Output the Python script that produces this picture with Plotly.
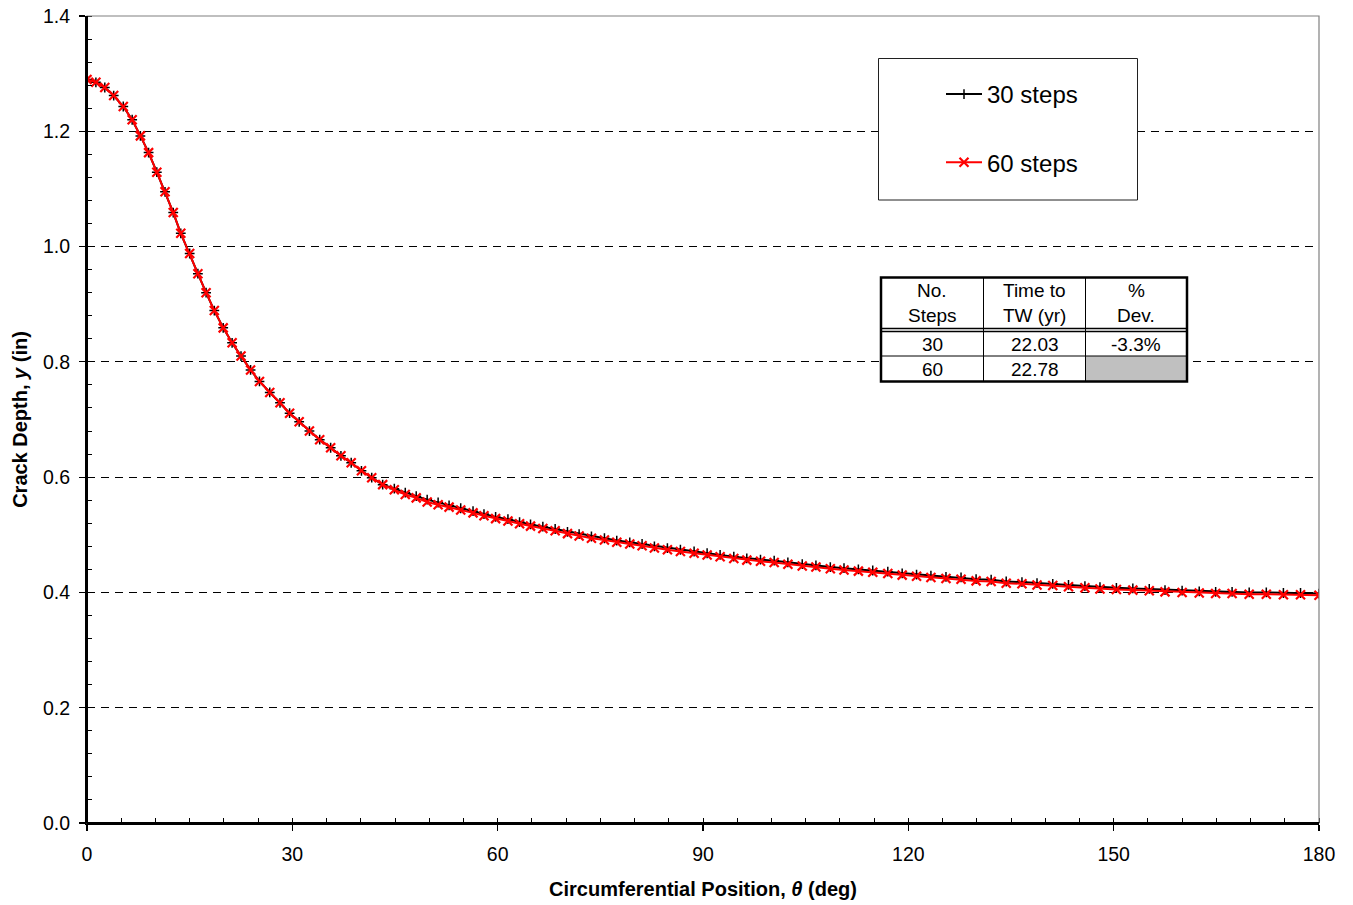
import plotly.graph_objects as go

# ---------------- data ----------------
theta = [0, 1.3, 2.6, 3.9, 5.3, 6.6, 7.8, 9.0, 10.2, 11.4, 12.6, 13.7, 15.0, 16.2, 17.4, 18.6, 19.9, 21.2, 22.5, 23.9,
         25.2, 26.7, 28.2, 29.6, 31.0, 32.5, 34.0, 35.6, 37.1, 38.6, 40.1, 41.6, 43.2, 44.9, 46.5, 48.1, 49.7, 51.3,
         52.9, 54.6, 56.4, 58.0, 59.7, 61.5, 63.2, 64.8, 66.6, 68.4,
         70.2, 71.9, 73.7, 75.6, 77.4, 79.3, 81.1, 82.9, 84.8, 86.7, 88.7, 90.6, 92.5, 94.5, 96.4, 98.4, 100.4, 102.4,
         104.5, 106.5, 108.6, 110.6, 112.7, 114.8, 117.0, 119.1, 121.2, 123.3, 125.5,
         127.7, 129.9, 132.1, 134.3, 136.6, 138.8, 141.1, 143.4, 145.8, 148.0, 150.4, 152.8, 155.2, 157.5, 160.0, 162.5,
         164.9, 167.3, 169.8, 172.3, 174.8, 177.3, 180]

depth_60 = [1.290, 1.285, 1.276, 1.262, 1.243, 1.220, 1.192, 1.163, 1.129, 1.095, 1.059, 1.023, 0.988, 0.953, 0.920,
            0.889, 0.859, 0.833, 0.810, 0.786,
            0.766, 0.747, 0.729, 0.711, 0.696, 0.680, 0.665, 0.651, 0.637, 0.625, 0.611, 0.599, 0.587, 0.578, 0.570,
            0.564, 0.557, 0.552, 0.548, 0.543, 0.538, 0.533, 0.528, 0.524, 0.519, 0.515, 0.511, 0.507,
            0.502, 0.498, 0.494, 0.491, 0.487, 0.484, 0.481, 0.477, 0.474, 0.471, 0.468, 0.465, 0.462, 0.459, 0.456,
            0.454, 0.452, 0.449, 0.446, 0.444, 0.441, 0.439, 0.437, 0.435, 0.433, 0.430, 0.428, 0.426, 0.424,
            0.423, 0.420, 0.419, 0.416, 0.415, 0.413, 0.412, 0.410, 0.408, 0.406, 0.405, 0.404, 0.403, 0.401, 0.400,
            0.399, 0.398, 0.398, 0.397, 0.397, 0.396, 0.396, 0.395]

depth_30 = [1.290, 1.285, 1.276, 1.262, 1.243, 1.220, 1.192, 1.163, 1.129, 1.095, 1.059, 1.023, 0.988, 0.953, 0.920,
            0.889, 0.859, 0.833, 0.810, 0.786,
            0.766, 0.747, 0.729, 0.711, 0.696, 0.680, 0.665, 0.651, 0.637, 0.625, 0.611, 0.599, 0.587,
            0.580, 0.573, 0.567, 0.561, 0.556, 0.551, 0.546, 0.541, 0.536, 0.531, 0.527, 0.522, 0.518, 0.514, 0.510,
            0.505, 0.501, 0.497, 0.494, 0.490, 0.487, 0.484, 0.480, 0.477, 0.474, 0.471, 0.468, 0.465, 0.462, 0.459,
            0.457, 0.455, 0.452, 0.449, 0.447, 0.444, 0.442, 0.440, 0.438, 0.436, 0.433, 0.431, 0.429, 0.427,
            0.426, 0.423, 0.422, 0.419, 0.418, 0.416, 0.415, 0.413, 0.411, 0.409, 0.408, 0.407, 0.406, 0.404, 0.403,
            0.402, 0.401, 0.401, 0.400, 0.400, 0.399, 0.399, 0.398]

series_names = ["30 steps", "60 steps"]

table_header = [["No.", "Steps"], ["Time to", "TW (yr)"], ["%", "Dev."]]
table_steps = ["30", "60"]
table_time = ["22.03", "22.78"]
table_dev = ["-3.3%", ""]

x_ticks = [0, 30, 60, 90, 120, 150, 180]
y_ticks = [0.0, 0.2, 0.4, 0.6, 0.8, 1.0, 1.2, 1.4]

# ---------------- layout geometry (page pixels) ----------------
W, H = 1353, 905
L, R, T, B = 87, 1319, 16, 823  # plot area in page pixels
FONT = "Arial, Liberation Sans, sans-serif"


def px(x):
    return (x - L) / (R - L)


def py(y):
    return (B - y) / (B - T)


fig = go.Figure()
fig.add_trace(go.Scatter(
    x=theta, y=depth_30, name=series_names[0], mode="lines+markers",
    legendgroup="a",
    line=dict(color="black", width=2),
    marker=dict(symbol="cross-thin", size=7, line=dict(color="black", width=1.5)),
))
fig.add_trace(go.Scatter(
    x=theta, y=depth_60, name=series_names[1], mode="lines+markers",
    legendgroup="b",
    line=dict(color="#FF0000", width=2),
    marker=dict(symbol="x-thin", size=9, line=dict(color="#FF0000", width=2.2)),
))

shapes = []
# plot frame (grey top/right)
shapes.append(dict(type="rect", xref="paper", yref="paper", x0=0, x1=1, y0=0, y1=1,
                   line=dict(color="#808080", width=1.2), layer="above"))
shapes.append(dict(type="line", xref="paper", yref="paper", x0=0, x1=0, y0=0, y1=1,
                   line=dict(color="black", width=2), layer="above"))
shapes.append(dict(type="line", xref="paper", yref="paper", x0=0, x1=1, y0=0, y1=0,
                   line=dict(color="black", width=2), layer="above"))

# legend box
shapes.append(dict(type="rect", xref="paper", yref="paper", x0=px(878.5), x1=px(1137.5), y0=py(200), y1=py(58.5),
                   fillcolor="white", line=dict(color="#202020", width=1), layer="above"))

# table
tx = [881, 983.5, 1085.5, 1187]
ty = [277.5, 328.5, 331.5, 356, 381.5]
shapes.append(dict(type="rect", xref="paper", yref="paper", x0=px(tx[0]), x1=px(tx[3]), y0=py(ty[4]), y1=py(ty[0]),
                   fillcolor="white", line=dict(width=0), layer="above"))
shapes.append(dict(type="rect", xref="paper", yref="paper", x0=px(tx[2]), x1=px(tx[3]), y0=py(ty[4]), y1=py(ty[3]),
                   fillcolor="#C0C0C0", line=dict(width=0), layer="above"))
for xx in tx[1:3]:
    shapes.append(dict(type="line", xref="paper", yref="paper", x0=px(xx), x1=px(xx), y0=py(ty[4]), y1=py(ty[0]),
                       line=dict(color="black", width=1), layer="above"))
for yy, wdt in [(ty[1], 1.5), (ty[2], 1.5), (ty[3], 1)]:
    shapes.append(dict(type="line", xref="paper", yref="paper", x0=px(tx[0]), x1=px(tx[3]), y0=py(yy), y1=py(yy),
                       line=dict(color="black", width=wdt), layer="above"))
shapes.append(dict(type="rect", xref="paper", yref="paper", x0=px(tx[0]), x1=px(tx[3]), y0=py(ty[4]), y1=py(ty[0]),
                   line=dict(color="black", width=2.5), layer="above"))

annotations = []
TFONT = dict(family=FONT, size=19, color="black")
col_cx = [(tx[i] + tx[i + 1]) / 2 for i in range(3)]
for i, (l1, l2) in enumerate(table_header):
    annotations.append(dict(x=px(col_cx[i]), y=py(290.5), xref="paper", yref="paper", text=l1, showarrow=False,
                            font=TFONT, xanchor="center", yanchor="middle"))
    annotations.append(dict(x=px(col_cx[i]), y=py(315), xref="paper", yref="paper", text=l2, showarrow=False,
                            font=TFONT, xanchor="center", yanchor="middle"))
rows_y = [344, 369]
for r in range(2):
    for c, col in enumerate([table_steps, table_time, table_dev]):
        if col[r]:
            annotations.append(dict(x=px(col_cx[c]), y=py(rows_y[r]), xref="paper", yref="paper", text=col[r],
                                    showarrow=False, font=TFONT, xanchor="center", yanchor="middle"))

fig.update_layout(
    width=W, height=H,
    margin=dict(l=L, r=W - R, t=T, b=H - B, autoexpand=False),
    paper_bgcolor="white", plot_bgcolor="white",
    font=dict(family=FONT, color="black", size=19),
    showlegend=True,
    legend=dict(x=px(941), y=py(72), xanchor="left", yanchor="top",
                bgcolor="rgba(0,0,0,0)", borderwidth=0,
                font=dict(family=FONT, size=24, color="black"),
                tracegroupgap=34, traceorder="grouped", itemwidth=36),
    shapes=shapes,
    annotations=annotations,
    xaxis=dict(
        range=[0, 180], tickvals=x_ticks, ticktext=[str(v) for v in x_ticks],
        showgrid=False, zeroline=False, showline=True, linecolor="black", linewidth=2,
        ticks="outside", ticklen=6, tickwidth=1.2, tickcolor="black",
        minor=dict(dtick=5, ticks="inside", ticklen=5, tickcolor="black", tickwidth=1, showgrid=False),
        tickfont=dict(family=FONT, size=19.5), ticklabelstandoff=7, ticklabeloverflow="allow",
        title=dict(text="<b>Circumferential Position, <i>θ</i> (deg)</b>", font=dict(family=FONT, size=20),
                   standoff=18),
        automargin=False, fixedrange=True,
    ),
    yaxis=dict(
        range=[0, 1.4], tickvals=y_ticks, ticktext=["%.1f" % v for v in y_ticks],
        showgrid=True, gridcolor="black", gridwidth=1, griddash="8px,6px",
        zeroline=False, showline=True, linecolor="black", linewidth=2,
        ticks="outside", ticklen=6, tickwidth=1.2, tickcolor="black",
        minor=dict(dtick=0.04, ticks="inside", ticklen=5, tickcolor="black", tickwidth=1, showgrid=False),
        tickfont=dict(family=FONT, size=19.5), ticklabelstandoff=5, ticklabeloverflow="allow",
        title=dict(text="<b>Crack Depth, <i>y</i> (in)</b>", font=dict(family=FONT, size=20), standoff=10),
        automargin=False, fixedrange=True,
    ),
)

# remove the browser's default 8px body margin so the figure fills the window exactly
fig.write_html("out.html",
               config={"displayModeBar": False, "staticPlot": True},
               post_script="document.body.style.margin='0';document.body.style.overflow='hidden';")
